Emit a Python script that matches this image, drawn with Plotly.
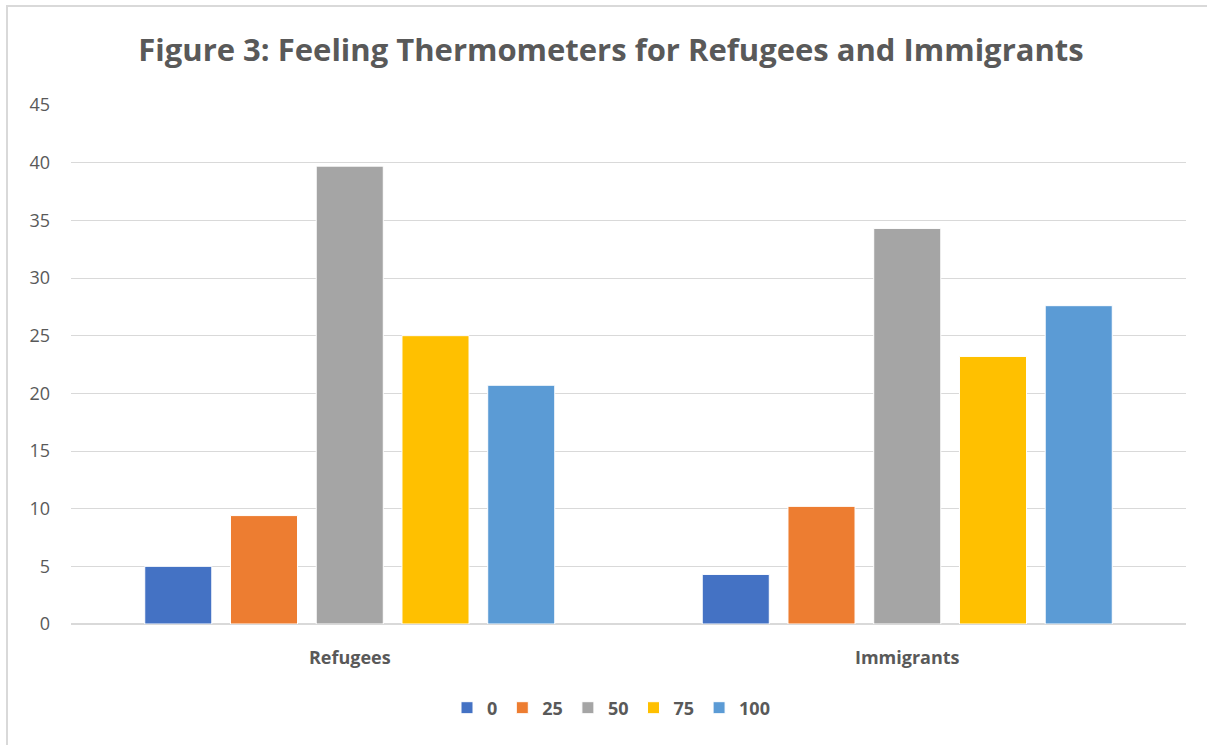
import plotly.graph_objects as go

# Survey groups on the x axis
groups = ["Refugees", "Immigrants"]

# Thermometer rating levels (one bar series each) and their shares
levels = ["0", "25", "50", "75", "100"]
refugees = [5.0, 9.4, 39.7, 25.0, 20.7]
immigrants = [4.3, 10.2, 34.3, 23.2, 27.6]

colors = ["#4472C4", "#ED7D31", "#A5A5A5", "#FFC000", "#5B9BD5"]
y_ticks = [0, 5, 10, 15, 20, 25, 30, 35, 40, 45]

TEXT = "#595959"
GRID = "#D9D9D9"
FONT = "Open Sans"

fig = go.Figure()
for i, lvl in enumerate(levels):
    fig.add_trace(go.Bar(
        name=lvl,
        x=groups,
        y=[refugees[i], immigrants[i]],
        marker=dict(color=colors[i], line=dict(color="#FFFFFF", width=1)),
    ))

W, H = 1207, 745
L, R, T, B = 71, 21, 105, 121
pw, ph = W - L - R, H - T - B


def px_x(x):
    return (x - L) / pw


def px_y(y):
    return (H - B - y) / ph


fig.update_layout(
    width=W,
    height=H,
    margin=dict(l=L, r=R, t=T, b=B),
    paper_bgcolor="white",
    plot_bgcolor="white",
    barmode="group",
    bargap=0.231,
    bargroupgap=0.218,
    font=dict(family=FONT, color=TEXT),
    title=dict(
        text="<b>Figure 3: Feeling Thermometers for Refugees and Immigrants</b>",
        x=611 / W,
        xref="container",
        xanchor="center",
        y=1 - 50 / H,
        yanchor="middle",
        yref="container",
        font=dict(size=31, color=TEXT, family=FONT),
    ),
    xaxis=dict(
        showgrid=False,
        showline=False,
        ticks="",
        tickfont=dict(size=18, color=TEXT, family=FONT, weight="bold"),
        ticklabelstandoff=21,
    ),
    yaxis=dict(
        range=[0, 45],
        tickvals=y_ticks,
        showgrid=True,
        gridcolor=GRID,
        gridwidth=1,
        zeroline=True,
        zerolinecolor=GRID,
        zerolinewidth=1.5,
        showline=False,
        ticks="",
        tickfont=dict(size=18, color=TEXT, family=FONT),
        ticklabelstandoff=20,
    ),
    legend=dict(
        orientation="h",
        x=px_x(611),
        xanchor="center",
        y=px_y(708),
        yanchor="middle",
        font=dict(size=18, color=TEXT, family=FONT, weight="bold"),
        itemwidth=30,
        traceorder="normal",
    ),
    showlegend=True,
    shapes=[
        dict(
            type="rect",
            xref="paper",
            yref="paper",
            x0=px_x(7),
            x1=px_x(1215),
            y0=px_y(755),
            y1=px_y(6),
            line=dict(color="#D9D9D9", width=2),
            fillcolor="rgba(0,0,0,0)",
            layer="below",
        )
    ],
)

fig.write_html("out.html")
